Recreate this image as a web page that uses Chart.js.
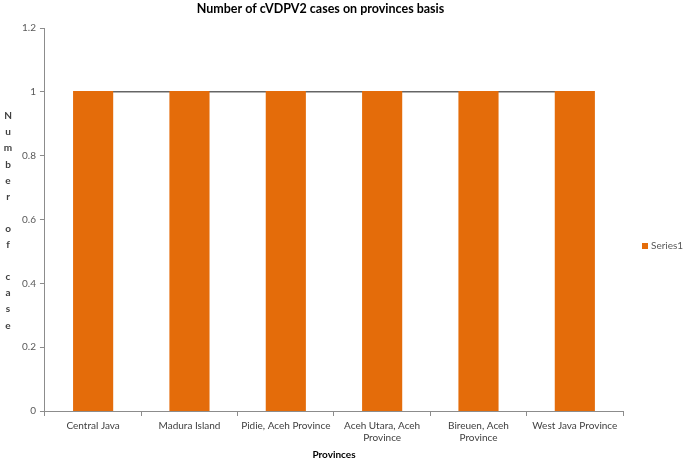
<!DOCTYPE html>
<html>
<head>
<meta charset="utf-8">
<script src="https://cdn.jsdelivr.net/npm/chart.js@4/dist/chart.umd.min.js"></script>
<style>
  body { margin: 0; background: white; }
  canvas { display: block; }
</style>
</head>
<body>
<canvas id="grafico_barras" width="685" height="461"></canvas>
<script>
const provinces = ['Central Java', 'Madura Island', 'Pidie, Aceh Province', ['Aceh Utara, Aceh', 'Province'], ['Bireuen, Aceh', 'Province'], 'West Java Province'];
const cases = [1, 1, 1, 1, 1, 1];
const yTitleLetters = ['N', 'u', 'm', 'b', 'e', 'r', '', 'o', 'f', '', 'c', 'a', 's', 'e'];
const seriesName = 'Series1';

const orange = '#E46C0A';
const axisGrey = '#8C8C8C';

// y axis title drawn as stacked letters, like the original sheet
const letrasPlugin = {
    id: 'letras',
    afterDraw(chart) {
        const c = chart.ctx;
        c.save();
        c.font = 'bold 10px Lato';
        c.fillStyle = '#404040';
        c.textAlign = 'center';
        c.textBaseline = 'middle';
        yTitleLetters.forEach((l, i) => c.fillText(l, 8, 116 + i * 16.1));

        // legend on the right
        c.fillStyle = orange;
        c.fillRect(642, 243, 6, 6);
        c.font = '10px Lato';
        c.fillStyle = '#595959';
        c.textAlign = 'left';
        c.fillText(seriesName, 651, 246);
        c.restore();
    }
};

let ctx = document.getElementById('grafico_barras');

const chart = new Chart(ctx, {
    type: 'bar',
    data: {
        labels: provinces,
        datasets: [{
            type: 'bar',
            label: seriesName,
            data: cases,
            backgroundColor: orange,
            barPercentage: 0.4,
            categoryPercentage: 1,
            inflateAmount: 0.8,
            order: 1
        }, {
            type: 'line',
            label: 'linha',
            data: cases,
            borderColor: '#1a1a1a',
            borderWidth: 1,
            pointRadius: 0,
            order: 2
        }]
    },
    options: {
        responsive: false,
        devicePixelRatio: 1,
        animation: false,
        layout: { padding: { left: 18, right: 62, top: 0, bottom: 0 } },
        plugins: {
            legend: { display: false },
            tooltip: { enabled: false },
            title: {
                display: true,
                text: 'Number of cVDPV2 cases on provinces basis',
                color: '#000',
                font: { family: 'Lato', size: 12.5, weight: 'bold' },
                padding: { top: 1, bottom: 12 }
            }
        },
        scales: {
            x: {
                grid: { offset: true, drawOnChartArea: false, drawTicks: true, tickLength: 5, color: axisGrey },
                border: { color: axisGrey },
                ticks: { color: '#404040', font: { family: 'Lato', size: 10 }, maxRotation: 0, autoSkip: false, padding: 4 },
                title: {
                    display: true,
                    text: 'Provinces',
                    color: '#000',
                    font: { family: 'Lato', size: 10, weight: 'bold' },
                    padding: { top: 1, bottom: 0 }
                }
            },
            y: {
                min: 0,
                max: 1.2,
                ticks: {
                    stepSize: 0.2,
                    color: '#595959',
                    font: { family: 'Lato', size: 10 },
                    padding: 4,
                    callback: v => String(Math.round(v * 10) / 10)
                },
                grid: { drawOnChartArea: false, drawTicks: true, tickLength: 5, color: axisGrey },
                border: { color: axisGrey }
            }
        }
    },
    plugins: [letrasPlugin]
});
</script>
</body>
</html>
